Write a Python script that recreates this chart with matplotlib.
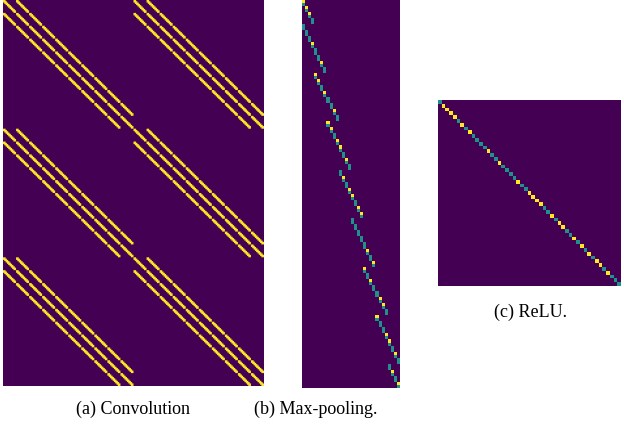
import numpy as np
import matplotlib
matplotlib.use("Agg")
import matplotlib.pyplot as plt

# convolution: 3x3 kernel, zero padding, 10x10 image, 2 input / 3 output channels
side = 10
kernel_offsets = [-1, 0, 1]
in_channels = 2
out_channels = 3

# max-pooling: one entry per row, 8 steps of 2 rows per segment, segments shift by 4 columns
pool_rows = 128
pool_cols = 32
segment_starts = [-4, 0, 4, 8, 12, 16, 20, 24, 28]
# T = both rows 0.5, Y = one row 1
segment_codes = ["----YYYT", "TTTYTTYT", "YYTYTTYT", "YYTYYTYT", "TYTYYTYY",
                 "TTTTTYTY", "YTYTTYYT", "YTTYYTYT", "TYTY----"]

# ReLU: diagonal values
relu_diag = [0.5, 1, 1, 1, 1, 0.5, 1, 0.5, 1, 0.5, 0.5, 0.5, 0.5, 1, 0.5, 0.5, 1,
             0.5, 0.5, 0.5, 0.5, 1, 0.5, 0.5, 1, 1, 1, 1, 0.5, 0.5, 1, 0.5, 1, 1,
             0.5, 0.5, 1, 0.5, 1, 0.5, 1, 0.5, 1, 1, 0.5, 1, 0.5, 0.5, 0.5]

captions = ["(a) Convolution", "(b) Max-pooling.", "(c) ReLU."]


def conv_block():
    n = side * side
    B = np.zeros((n, n))
    for i in range(side):
        for j in range(side):
            for di in kernel_offsets:
                for dj in kernel_offsets:
                    ii, jj = i + di, j + dj
                    if 0 <= ii < side and 0 <= jj < side:
                        B[i * side + j, ii * side + jj] = 1
    return B


blk = conv_block()
conv = np.block([[blk] * in_channels] * out_channels)

pool = np.zeros((pool_rows, pool_cols))
r = -8
for start, code in zip(segment_starts, segment_codes):
    for k, c in enumerate(code):
        col = start + k
        for h in range(2):
            row = r + 2 * k + h
            if c == "-" or row < 0 or row >= pool_rows:
                continue
            pool[row, col] = 1 if (c == "Y" and h == 0) else 0.5
    r += 16

relu = np.diag(relu_diag)

fig = plt.figure(figsize=(6.24, 4.25), dpi=100)
plt.rcParams["font.family"] = ["Liberation Serif", "DejaVu Serif"]

ax1 = fig.add_axes([3 / 624, 1 - 386 / 425, 261 / 624, 386 / 425])
ax2 = fig.add_axes([302 / 624, 1 - 388 / 425, 98 / 624, 388 / 425])
ax3 = fig.add_axes([438 / 624, 1 - 286 / 425, 182 / 624, 186 / 425])

for ax, M in zip([ax1, ax2, ax3], [conv, pool, relu]):
    ax.imshow(M, cmap="viridis", vmin=0, vmax=1, aspect="auto")
    ax.axis("off")

fig.text(133 / 624, 1 - 409 / 425, captions[0], ha="center", va="center", fontsize=13)
fig.text(316 / 624, 1 - 409 / 425, captions[1], ha="center", va="center", fontsize=13)
fig.text(531 / 624, 1 - 312 / 425, captions[2], ha="center", va="center", fontsize=13)

fig.savefig("out.png", dpi=100)
